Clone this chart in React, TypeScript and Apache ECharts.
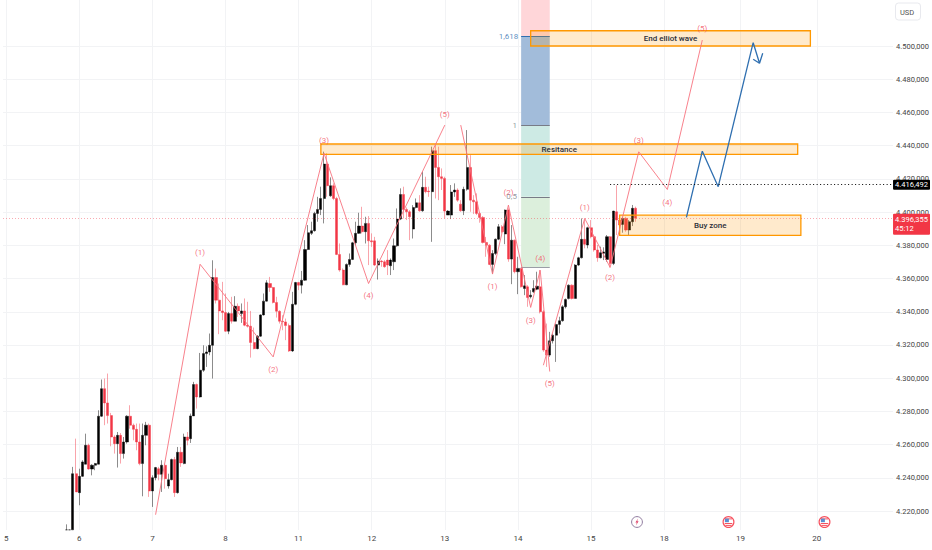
import React, { useEffect, useRef } from "react";
import * as echarts from "echarts";

// open, close, low, high per hourly bar, starting at slot `firstSlot`
const firstSlot = 20;
const ohlc: number[][] = [
  [4208.7,4208.7,4208.7,4212],[4208.7,4208.7,4208.7,4208.7],
  [4208.7,4242.5,4208.7,4246.6],[4242.5,4231.5,4231.5,4263.6],[4231.1,4240.9,4223.5,4245.5],[4240.9,4249.6,4240.5,4250.6],
  [4248.2,4259.6,4248.2,4266.6],[4259.6,4245.3,4244.9,4260.6],[4245.3,4247.6,4241.5,4248.2],[4247.6,4248.6,4244.6,4249],
  [4248.2,4277.1,4248.2,4280.7],[4277.1,4293.7,4276.7,4299.2],[4293.7,4285.1,4271.7,4299.8],[4285.1,4277.5,4272.7,4302.8],
  [4277.5,4264.6,4259,4279.1],[4264.6,4260.6,4254.6,4265.6],[4260.6,4265.6,4246.2,4267.6],[4265.6,4254.6,4248.6,4267],
  [4254.6,4261.6,4251.6,4264.6],[4261.6,4277.1,4260.6,4277.7],[4277.1,4271.7,4269.6,4283.7],[4271.7,4269.2,4262.6,4272.7],
  [4269.2,4261.6,4256.6,4272.7],[4261.6,4248.6,4247.6,4272.7],[4248.6,4265.6,4228.9,4272.7],[4265.6,4271.7,4259.6,4273.7],
  [4271.7,4232.1,4228.5,4272.7],[4232.1,4240.1,4222.5,4241.5],[4240.1,4246.2,4238.5,4246.6],[4245.5,4242.1,4238.5,4246.6],
  [4242.1,4247.6,4231.5,4250.6],[4247.6,4239.5,4233.5,4248.6],[4235.1,4238.9,4233.5,4242.5],[4238.9,4251,4238.5,4251.6],
  [4251,4231.1,4228.5,4252.6],[4231.1,4255.4,4230.5,4258.6],[4255.4,4249,4246.6,4258.6],[4248.6,4264.6,4248.2,4266.6],
  [4264.6,4262.6,4259.6,4267.6],[4263.6,4277.3,4261,4278.7],[4277.3,4296.2,4277.3,4297.8],[4296.2,4288.7,4281.7,4296.8],
  [4288.7,4304.8,4288.3,4315.2],[4304.8,4314.8,4303.8,4319.8],[4314.8,4315.8,4306.8,4319.2],[4315.8,4319.8,4313.8,4326.9],
  [4319.8,4360.6,4299.8,4371],[4360.6,4347,4345,4366],[4347,4340.5,4326.5,4357],[4340.5,4339.5,4334.9,4358],
  [4339.5,4328.3,4327.9,4351],[4328.3,4338.9,4326.5,4339.9],[4338.9,4334.3,4332.9,4349],[4334.3,4343.3,4334.3,4349.4],
  [4343.3,4340.5,4336.9,4345],[4338.9,4340.5,4333.3,4345],[4340.5,4331.9,4331.3,4348],[4331.9,4331.3,4330.5,4346],
  [4331.3,4321.5,4312.4,4340.5],[4321.5,4317.8,4317.4,4330.5],[4317.8,4325.3,4317.4,4325.9],[4325.3,4338.1,4324.9,4338.5],
  [4338.1,4346.4,4337.7,4351],[4346.4,4357.4,4346.2,4359],[4357,4354.6,4352,4361],[4354.6,4345.6,4345,4355],
  [4345.6,4340.3,4336.5,4349],[4340.3,4334.3,4332.9,4340.9],[4334.3,4333.9,4328.9,4337.9],[4333.9,4331.7,4322.9,4335.9],
  [4331.7,4316.4,4315.8,4332.9],[4316.4,4344.5,4315.8,4352],[4344.5,4357.6,4343.9,4358],[4357.6,4356,4353,4358],
  [4356,4359,4351,4364.6],[4359,4377.5,4358.6,4383.1],[4377.5,4387.6,4377.1,4392.2],[4387.2,4388.8,4386.2,4394.2],
  [4388.8,4399.2,4388.2,4400.2],[4399.2,4401.6,4394.2,4409.2],[4401.6,4408.2,4398.2,4415.3],[4408.2,4428.9,4393.2,4436.4],
  [4428.9,4415.9,4409.2,4435.4],[4409.8,4415.9,4409.2,4420.9],[4415.9,4408.2,4407.2,4417.3],[4408.2,4374.5,4374.1,4409.2],
  [4374.5,4365.1,4364.1,4381.1],[4365.1,4356.2,4356,4366.1],[4356.2,4368.5,4356,4369.1],[4368.5,4371.5,4367.1,4375.1],
  [4371.5,4381.5,4371.1,4382.1],[4381.5,4387.2,4380.1,4394.2],[4387.2,4391.6,4386.8,4399.6],[4391.6,4388.2,4387.2,4403.2],
  [4388.2,4393.2,4381.1,4397.2],[4393.2,4382.7,4368.1,4397.6],[4382.7,4382.1,4379.1,4387.2],[4382.7,4368.1,4367.5,4385.1],
  [4368.1,4370.5,4359.4,4372.1],[4370.5,4370.1,4367.1,4371.1],[4370.1,4367.1,4366.5,4371.1],[4371.1,4368.1,4362.1,4377.1],
  [4367.7,4371.1,4362.1,4372.1],[4370.1,4379.7,4365.1,4384.1],[4379.7,4395.8,4379.1,4402.2],[4395.8,4410.6,4395.2,4414.3],
  [4410.6,4401.6,4396.2,4415.3],[4401.6,4400.2,4395.2,4402.8],[4400.2,4397.2,4383.1,4401.2],[4389.8,4402.8,4384.1,4404.2],
  [4402.8,4405.6,4402.2,4408.2],[4405.6,4400.8,4400.2,4410.2],[4400.8,4414.9,4400.2,4424.3],[4414.9,4412.3,4411.3,4421.3],
  [4412.7,4412.3,4409.2,4415.3],[4412.3,4437,4382.1,4439.4],[4437,4426.9,4408.2,4440.4],[4426.9,4421.3,4407.2,4439.4],
  [4421.3,4420.3,4413.3,4426.3],[4420.3,4400.6,4396.2,4421.3],[4398.2,4400.6,4398.2,4401.2],[4398.2,4412.1,4395.8,4416.3],
  [4412.1,4413.3,4409.2,4417.3],[4413.3,4407.2,4406.2,4414.3],[4404.8,4400.8,4400.2,4407.2],[4400.8,4413.7,4398.2,4415.3],
  [4413.7,4426.9,4412.9,4449.4],[4426.9,4407.2,4400.2,4434.3],[4407.2,4406.2,4398.8,4410.2],[4406.2,4399.2,4398.2,4411.3],
  [4399.2,4396.8,4393.6,4400.2],[4396.8,4381.7,4381.1,4397.6],[4381.7,4380.1,4373.1,4385.1],[4380.1,4368.5,4368.1,4380.7],
  [4368.5,4375.1,4362.7,4377.1],[4375.1,4383.7,4374.1,4384.1],[4383.7,4391.2,4383.1,4392.8],[4391.2,4388.2,4387.2,4392.2],
  [4386.8,4401.2,4380.7,4401.6],[4401.2,4371.7,4370.1,4402.2],[4371.7,4383.1,4356.6,4392.2],[4383.1,4364.1,4363.1,4383.5],
  [4364.1,4366.1,4350.6,4373.1],[4366.1,4355,4354.6,4366.5],[4354,4355.6,4350,4362.1],[4355,4348.6,4343,4356],
  [4349,4350,4348,4353],[4352,4354,4351.4,4359],[4353.6,4355.4,4353,4364.1],[4355,4340,4339,4365.1],
  [4340,4316.9,4315.9,4341],[4316.9,4313.9,4306.8,4332.9],[4313.9,4322.5,4312.9,4327.9],[4322.5,4325.9,4320.9,4326.9],
  [4325.9,4332.3,4309.8,4332.9],[4332.4,4334.6,4327,4337],[4334.6,4343,4334,4344],[4343,4347.4,4342,4348],
  [4348,4356,4347.4,4356.5],[4356,4348,4347.4,4356.5],[4348,4368.1,4348,4368.7],[4368.1,4372.5,4367.5,4373.1],
  [4372.5,4383.6,4372.1,4396.2],[4383.6,4380.6,4378.2,4395.2],[4380.2,4390.6,4378.2,4391.2],[4390.6,4385.2,4384.2,4395.2],
  [4385.2,4377.2,4376.2,4386.2],[4377.2,4372.5,4370.1,4380.2],[4372.5,4375.6,4372.1,4379.2],[4375.2,4376,4371.1,4378.8],
  [4371.5,4385.2,4370.1,4386.2],[4385.2,4369.1,4366.7,4385.6],[4369.1,4400.6,4368.1,4400.8],[4400.2,4395.2,4386.2,4416.1],
  [4395.2,4392.2,4387.2,4398.2],[4392.6,4396.2,4387.6,4397.2],[4396.2,4389.2,4388.2,4397.2],[4389.2,4394.2,4386.2,4395.2],
  [4394.2,4402.3,4391.6,4404.3],[4402.3,4396.355,4394.2,4403.3],
];

const slotCount = 281;
const daySlots = [1, 24, 47, 70, 93, 116, 139, 162, 185, 208, 232, 256];
const dayNames = ["5", "6", "7", "8", "11", "12", "13", "14", "15", "18", "19", "20"];
const priceTicks = [4220, 4240, 4260, 4280, 4300, 4320, 4340, 4360, 4380, 4400, 4420, 4440, 4460, 4480, 4500];

const waveA: number[][] = [[48, 4217.8], [62, 4368.6], [85, 4312.8], [101, 4435.4], [115, 4357], [139, 4452.4]];
const waveB: number[][] = [[144, 4452.4], [154, 4362.7], [159, 4404.2], [166, 4342.6], [169, 4365], [172, 4304]];
const waveC: number[][] = [[170, 4307.8], [183, 4396.2], [191, 4366.7], [200, 4436.3], [209, 4413.6], [220, 4503.6]];
const forecast: number[][] = [[215, 4396.8], [220, 4436.7], [225, 4415.3], [236, 4502], [238, 4489.6], [239, 4495.6]];
const forecastArm: number[][] = [[236, 4492], [238, 4489.6]];

const waveLabels: [number, number, string][] = [
  [62, 4375.7, "(1)"], [85, 4305.4, "(2)"], [101, 4443.4, "(3)"], [115, 4349.6, "(4)"], [139, 4459, "(5)"],
  [154, 4355, "(1)"], [159, 4411.9, "(2)"], [166, 4335, "(3)"], [169, 4372, "(4)"], [172, 4297, "(5)"],
  [183, 4403, "(1)"], [191, 4360.4, "(2)"], [200, 4443.4, "(3)"], [209, 4405.8, "(4)"], [220, 4510.4, "(5)"],
];

const fibLeft = 163;
const fibRight = 172;
const fibBands: [number, number, string][] = [
  [4506, 4527.7, "#ffd6d9"],
  [4452, 4506, "#a2bcda"],
  [4409.2, 4452, "#cdeae4"],
  [4366.5, 4409.2, "#dcefdc"],
];
const fibLevels: [number, string, string, number][] = [
  [4506, "1,618", "#2f6fb0", 159],
  [4452, "1", "#787b86", 161],
  [4409.2, "0,5", "#787b86", 160],
];
const fibFloor = 4366.5;

const zones: [number, number, number, number, string][] = [
  [166, 254, 4500, 4509.2, "End elliot wave"],
  [100, 250, 4434.8, 4441, "Resitance"],
  [194, 251, 4386, 4398.2, "Buy zone"],
];

const lastPrice = 4396.355;
const countdown = "45:12";
const pivotPrice = 4416.492;
const pivotStart = 191;

const fmtPrice = (v: number) => {
  const s = v.toFixed(3);
  return s[0] + "." + s.slice(1).replace(".", ",");
};

const FONT = "Roboto";
const RED = "#f23645";
const WAVE = "#f7737f";

function flag(x: number) {
  return {
    type: "group",
    x,
    y: 522,
    silent: true,
    children: [
      { type: "circle", shape: { cx: 0, cy: 0, r: 5.4 }, style: { fill: "#fff", stroke: "#f7525f", lineWidth: 1.2 } },
      { type: "rect", shape: { x: -3.6, y: -3.6, width: 7.2, height: 1 }, style: { fill: "#f7525f" } },
      { type: "rect", shape: { x: -3.8, y: 1, width: 7.6, height: 1.1 }, style: { fill: "#f7525f" } },
      { type: "rect", shape: { x: -3, y: 3, width: 6, height: 0.9 }, style: { fill: "#f7525f" } },
      { type: "rect", shape: { x: -3.6, y: -3.4, width: 4, height: 3.6 }, style: { fill: "#5b8fd0" } },
    ],
  };
}

export default function App() {
  const ref = useRef<HTMLDivElement>(null);
  useEffect(() => {
    const chart = echarts.init(ref.current!, undefined, { renderer: "svg" });
    const xData = Array.from({ length: slotCount }, (_, i) => {
      const k = daySlots.indexOf(i);
      return k >= 0 ? dayNames[k] : "";
    });
    const waveLine = (name: string, data: number[][], color: string, width: number) => ({
      type: "line",
      name,
      data,
      symbol: "none",
      z: 6,
      silent: true,
      lineStyle: { color, width },
    });
    const option: any = {
      animation: false,
      backgroundColor: "#fff",
      grid: { left: 1.6, right: 37.2, top: 0, bottom: 20, containLabel: false },
      xAxis: {
        type: "category",
        data: xData,
        boundaryGap: false,
        axisLine: { show: false },
        axisTick: { show: false },
        axisLabel: { interval: 0, margin: 4, fontSize: 8, fontFamily: FONT, color: "#444" },
        splitLine: {
          show: true,
          interval: (i: number) => daySlots.includes(i),
          lineStyle: { color: "#f2f3f5", width: 1 },
        },
      },
      yAxis: {
        type: "value",
        position: "right",
        min: 4208.6,
        max: 4527.7,
        axisLine: { show: false },
        axisTick: { show: false, customValues: priceTicks },
        axisLabel: {
          customValues: priceTicks,
          margin: 3,
          fontSize: 7.5,
          fontFamily: FONT,
          color: "#444",
          formatter: (v: number) => fmtPrice(v),
        },
        splitLine: { show: true, lineStyle: { color: "#f2f3f5", width: 1 } },
      },
      series: [
        {
          type: "line",
          name: "fib",
          data: [],
          silent: true,
          markArea: {
            silent: true,
            z: 1,
            data: fibBands.map((b) => [
              { xAxis: fibLeft, yAxis: b[0], itemStyle: { color: b[2] } },
              { xAxis: fibRight, yAxis: b[1] },
            ]),
          },
          markLine: {
            silent: true,
            symbol: "none",
            z: 1,
            label: { show: false },
            data: [
              ...fibLevels.map((l) => [
                { coord: [fibLeft, l[0]], lineStyle: { color: l[2], width: 1, type: "solid" } },
                { coord: [fibRight, l[0]] },
              ]),
              [
                { coord: [fibLeft, fibFloor], lineStyle: { color: "#9a9da6", width: 1, type: "solid" } },
                { coord: [fibRight, fibFloor] },
              ],
            ],
          },
        },
        {
          type: "candlestick",
          name: "XAUUSD",
          z: 3,
          barWidth: 2.6,
          silent: true,
          encode: { x: 0, y: [1, 2, 3, 4] },
          data: ohlc.map((d, i) => [firstSlot + i, d[0], d[1], d[2], d[3]]),
          itemStyle: {
            color: "#000000",
            color0: RED,
            borderColor: "rgba(0,0,0,0.45)",
            borderColor0: "rgba(242,54,69,0.45)",
            borderWidth: 1,
          },
        },
        {
          type: "line",
          name: "zones",
          data: [],
          silent: true,
          markArea: {
            silent: true,
            z: 5,
            label: {
              show: true,
              position: "inside",
              fontFamily: FONT,
              fontSize: 8,
              color: "#2a2e39",
              fontWeight: 500,
            },
            data: zones.map((z) => [
              {
                name: z[4],
                xAxis: z[0],
                yAxis: z[2],
                itemStyle: { color: "rgba(255,152,0,0.2)", borderColor: "#ff9800", borderWidth: 1.3 },
              },
              { xAxis: z[1], yAxis: z[3] },
            ]),
          },
        },
        waveLine("waveA", waveA, WAVE, 0.9),
        waveLine("waveB", waveB, WAVE, 0.9),
        waveLine("waveC", waveC, WAVE, 0.9),
        waveLine("forecast", forecast, "#2f6fb0", 1.3),
        waveLine("forecastArm", forecastArm, "#2f6fb0", 1.3),
        {
          type: "scatter",
          name: "waveLabels",
          symbolSize: 0,
          silent: true,
          z: 7,
          data: waveLabels.map((w) => [w[0], w[1], w[2]]),
          label: {
            show: true,
            position: "inside",
            fontSize: 8,
            fontFamily: FONT,
            color: "#f2505f",
            formatter: (p: any) => p.data[2],
          },
        },
        {
          type: "scatter",
          name: "fibLabels",
          symbolSize: 0,
          silent: true,
          z: 7,
          data: fibLevels.map((l) => ({
            value: [l[3], l[0]],
            label: { show: true, position: "inside", fontSize: 8, fontFamily: FONT, color: l[2], formatter: l[1] },
          })),
        },
        {
          type: "line",
          name: "priceLines",
          data: [],
          silent: true,
          markLine: {
            silent: true,
            symbol: "none",
            z: 8,
            data: [
              {
                yAxis: lastPrice,
                lineStyle: { color: "rgba(242,54,69,0.6)", width: 0.7, type: [1, 2] },
                label: {
                  show: true,
                  position: "end",
                  distance: 0,
                  offset: [0, 6],
                  formatter: fmtPrice(lastPrice) + "\n" + countdown,
                  backgroundColor: RED,
                  color: "#fff",
                  fontSize: 7.5,
                  lineHeight: 9.5,
                  fontFamily: FONT,
                  padding: [1, 2, 1, 2],
                  borderRadius: 1,
                },
              },
              [
                {
                  coord: [pivotStart, pivotPrice],
                  lineStyle: { color: "#000", width: 1, type: [1, 2.5] },
                  label: {
                    show: true,
                    position: "end",
                    distance: 0,
                    formatter: fmtPrice(pivotPrice),
                    backgroundColor: "#000",
                    color: "#fff",
                    fontSize: 7.5,
                    fontFamily: FONT,
                    padding: [1, 2, 1, 2],
                    borderRadius: 1,
                  },
                },
                { coord: [slotCount - 1, pivotPrice] },
              ],
            ],
          },
        },
      ],
      graphic: [
        {
          type: "rect",
          silent: true,
          shape: { x: 895.5, y: 3, width: 25, height: 17, r: 3 },
          style: { fill: "#fff", stroke: "#e8e9ee", lineWidth: 1 },
        },
        {
          type: "text",
          silent: true,
          x: 900,
          y: 8,
          style: { text: "USD", fontSize: 7.5, fontFamily: FONT, fill: "#555" },
        },
        {
          type: "group",
          x: 637,
          y: 522,
          silent: true,
          children: [
            { type: "circle", shape: { cx: 0, cy: 0, r: 5.4 }, style: { fill: "#fff", stroke: "#8f7a9e", lineWidth: 1 } },
            {
              type: "polygon",
              shape: { points: [[1, -3.4], [-1.6, 0.6], [-0.2, 0.6], [-1, 3.4], [1.6, -0.8], [0.2, -0.8]] },
              style: { fill: "#e0476b" },
            },
          ],
        },
        flag(728.5),
        flag(824.5),
      ],
    };
    chart.setOption(option);
    return () => chart.dispose();
  }, []);
  return <div ref={ref} style={{ position: "fixed", left: 0, top: 0, width: 932, height: 550 }} />;
}
